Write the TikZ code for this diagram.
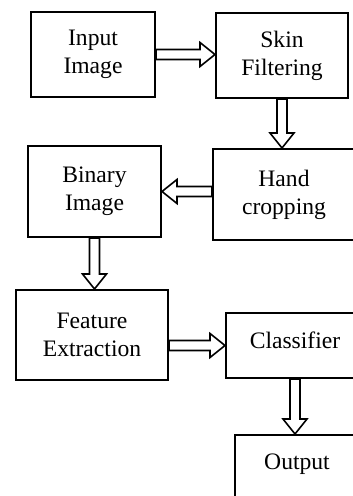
\documentclass[tikz,border=0pt]{standalone}
\usepackage{fontspec}
\setmainfont{Liberation Serif}
\usetikzlibrary{calc}
\tikzstyle{process} = [rectangle, draw=black, line width=1pt, align=center, inner sep=0pt, font=\fontsize{11.8}{14}\selectfont]
\tikzstyle{blockarrow} = [draw=black, line width=0.8pt, to path={let \p1=(\tikztostart), \p2=(\tikztotarget), \p3=($(\p2)!7.5pt!(\p1)$) in ($(\p1)!2.5pt!90:(\p2)$) -- ($(\p3)!2.5pt!-90:(\p1)$) -- ($(\p3)!6pt!-90:(\p1)$) -- (\p2) -- ($(\p3)!6pt!90:(\p1)$) -- ($(\p3)!2.5pt!90:(\p1)$) -- ($(\p1)!2.5pt!-90:(\p2)$) -- cycle}]

\begin{document}
\begin{tikzpicture}[x=0.5pt, y=-0.5pt]
\useasboundingbox (0,0) rectangle (352,496);
\node (input) [process, minimum width=62pt, minimum height=42.5pt] at (93,54.5) {Input\\Image};
\node (skin) [process, minimum width=66pt, minimum height=42.5pt] at (282,55.5) {Skin\\Filtering};
\node (hand) [process, minimum width=71pt, minimum height=45.5pt] at (284,194.5) {Hand\\cropping};
\node (binary) [process, minimum width=66.5pt, minimum height=45.5pt] at (94.5,191.5) {Binary\\Image};
\node (feature) [process, minimum width=76pt, minimum height=45pt] at (92,335) {Feature\\Extraction};
\node (classifier) [process, minimum width=69pt, minimum height=32.5pt, text depth=5pt] at (295,345.5) {Classifier};
\node (output) [process, minimum width=62pt, minimum height=50pt, text depth=23pt] at (297,485) {Output};

\draw [blockarrow] (input.east) to (input.east -| skin.west);
\draw [blockarrow] (skin.south) to (skin.south |- hand.north);
\draw [blockarrow] (hand.west |- binary.east) to (binary.east);
\draw [blockarrow] (binary.south) to (binary.south |- feature.north);
\draw [blockarrow] (feature.east |- classifier.west) to (classifier.west);
\draw [blockarrow] (classifier.south) to (classifier.south |- output.north);

\end{tikzpicture}
\end{document}
